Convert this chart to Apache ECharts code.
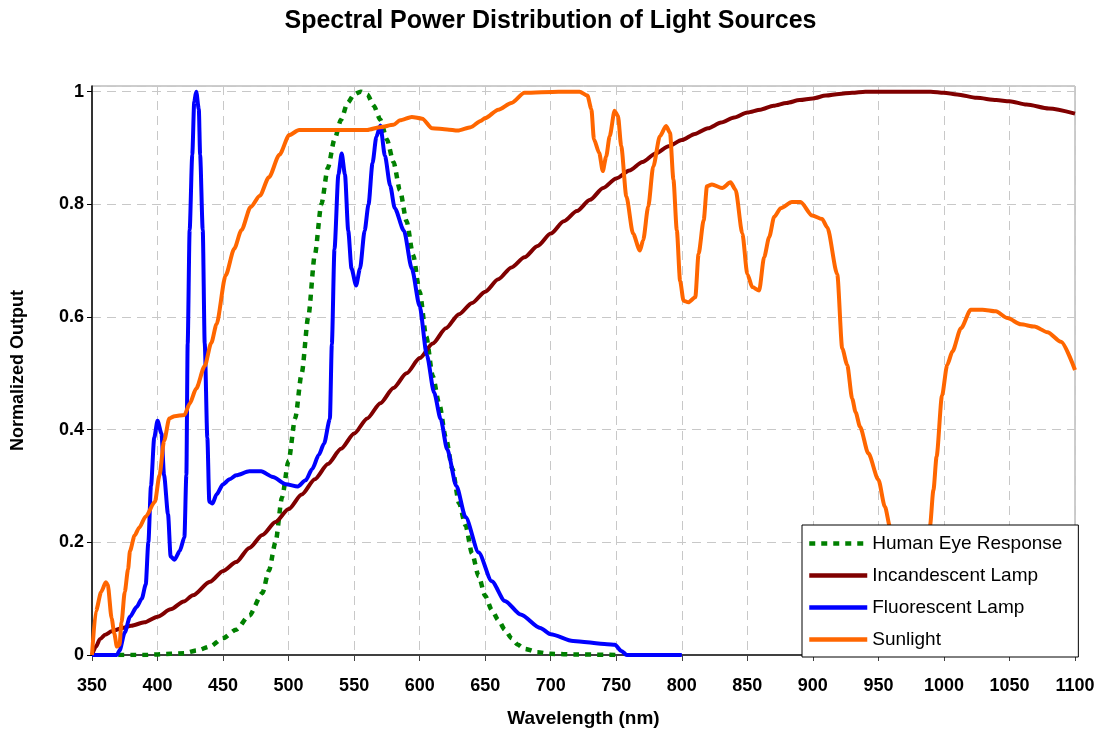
<!DOCTYPE html>
<html>
<head>
<meta charset="utf-8">
<script src="https://cdn.jsdelivr.net/npm/echarts@6/dist/echarts.min.js"></script>
<style>
html,body{margin:0;padding:0;background:#fff;}
#chart{width:1101px;height:734px;}
</style>
</head>
<body>
<div id="chart"></div>
<script>
var xTicks = [350,400,450,500,550,600,650,700,750,800,850,900,950,1000,1050,1100];
var yTicks = [0,0.2,0.4,0.6,0.8,1];

var eyeNm = [370,380,390,400,410,420,430,440,450,460,470,480,485,490,495,500,505,510,515,520,525,530,535,540,545,550,555,560,565,570,575,580,585,590,595,600,605,610,615,620,625,630,635,640,645,650,655,660,665,670,675,680,690,700,720,750];
var eyeVal = [0,0,0,0.001,0.002,0.003,0.008,0.015,0.03,0.045,0.07,0.11,0.15,0.2,0.28,0.345,0.42,0.5,0.6,0.71,0.8,0.865,0.915,0.95,0.98,0.995,1.0,0.995,0.975,0.95,0.915,0.875,0.825,0.77,0.71,0.645,0.565,0.495,0.445,0.385,0.33,0.27,0.23,0.18,0.14,0.105,0.08,0.062,0.045,0.03,0.018,0.011,0.005,0.002,0.001,0];

var incNm = [350,353,356,360,365,373,380,390,400,410,420,427,440,450,460,470,480,490,500,510,520,530,540,550,560,570,580,590,600,610,620,630,640,650,660,670,680,690,700,710,720,730,740,750,760,770,780,790,800,810,820,830,840,850,860,870,880,890,900,910,920,930,940,990,1000,1010,1025,1040,1050,1063,1080,1100];
var incVal = [0,0.015,0.028,0.036,0.042,0.048,0.052,0.058,0.068,0.081,0.095,0.106,0.13,0.149,0.165,0.19,0.213,0.236,0.259,0.285,0.312,0.339,0.366,0.393,0.42,0.447,0.474,0.5,0.527,0.553,0.58,0.605,0.625,0.645,0.667,0.688,0.706,0.726,0.748,0.77,0.788,0.808,0.829,0.846,0.86,0.875,0.89,0.903,0.914,0.925,0.935,0.945,0.954,0.963,0.968,0.975,0.98,0.985,0.988,0.993,0.996,0.998,1.0,1.0,0.998,0.995,0.989,0.985,0.983,0.977,0.97,0.961];

var fluNm = [350,369,371,375,379,384,388,391,393,395,397.5,400,403,405,408,410,413,417,420.5,422,423,424.5,426.5,428,429.5,431.5,432.5,434.5,436,438,439.5,442,445,450,455,460,470,479,488,498,507,513,518,523,527,531.5,533,535,538,540.5,543,545.5,548,551.5,554.5,558,561,564,567,570,573.5,577.5,581,588,594,600,605.5,611,616,621,628,635,645,655,665,677,692,700,717,743,749,754,758,800];
var fluVal = [0,0,0.008,0.04,0.068,0.085,0.1,0.125,0.2,0.3,0.386,0.416,0.393,0.319,0.25,0.175,0.169,0.185,0.209,0.32,0.553,0.754,0.888,0.982,1.0,0.969,0.888,0.754,0.553,0.386,0.272,0.269,0.285,0.303,0.312,0.319,0.326,0.326,0.316,0.303,0.299,0.31,0.33,0.355,0.375,0.419,0.552,0.72,0.853,0.89,0.853,0.753,0.686,0.656,0.686,0.753,0.8,0.873,0.92,0.94,0.886,0.833,0.793,0.753,0.686,0.619,0.532,0.466,0.419,0.365,0.3,0.245,0.182,0.131,0.096,0.072,0.048,0.037,0.025,0.019,0.018,0.007,0,0];

var sunNm = [350,353,357,360.5,362,365,367,369,371,372.5,375,377.5,379,382.5,386,391,398,401.5,405,409,413,420.5,424.5,429.5,436,441,445,452,458.5,464,471,478,485,493,500.5,508,531,560,570,580,585,594,602,609.5,621,629,639,646.5,650,660,670,680,706,722,728,731,733,737,739.7,742.3,745,748.7,751.3,753.8,757.7,762.8,768,770.5,774.4,778.2,783.3,788,791,793.6,796.2,798.7,801.3,805,810.3,812.8,816.7,819.2,823,830.8,837.2,841,846.2,850,853.8,859,862.8,866.7,870.5,875.5,884,890.6,899.5,907,911,918.6,922.4,926.2,930,932.6,936,942.3,950,955,958.8,963,968,975,982,987,989.3,992,994.4,998.5,1002.5,1006.5,1013,1020.5,1029.4,1039.6,1048.5,1058.7,1069,1079,1089.3,1100];
var sunVal = [0,0.078,0.112,0.129,0.125,0.065,0.038,0.015,0.018,0.058,0.112,0.152,0.185,0.212,0.226,0.246,0.272,0.319,0.38,0.42,0.424,0.426,0.446,0.473,0.513,0.554,0.587,0.674,0.721,0.754,0.795,0.815,0.848,0.888,0.923,0.932,0.932,0.932,0.937,0.941,0.949,0.955,0.952,0.935,0.933,0.931,0.937,0.948,0.953,0.968,0.98,0.998,1.0,1.0,0.993,0.969,0.915,0.891,0.859,0.885,0.921,0.966,0.957,0.903,0.814,0.748,0.718,0.736,0.796,0.867,0.921,0.939,0.927,0.844,0.754,0.664,0.629,0.626,0.635,0.712,0.772,0.832,0.835,0.829,0.839,0.826,0.748,0.676,0.653,0.647,0.706,0.742,0.778,0.793,0.804,0.804,0.78,0.774,0.759,0.676,0.544,0.515,0.455,0.431,0.405,0.358,0.311,0.263,0.228,0.18,0.12,0.1,0.12,0.18,0.228,0.293,0.352,0.46,0.515,0.539,0.58,0.613,0.613,0.61,0.598,0.587,0.583,0.573,0.556,0.506];

var seriesNames = ['Human Eye Response','Incandescent Lamp','Fluorescent Lamp','Sunlight'];
var seriesColors = ['#008000','#800000','#0000ff','#ff6600'];

function pairs(xs, ys){
  var n = Math.min(xs.length, ys.length), out = [];
  for (var i = 0; i < n; i++) out.push([xs[i], ys[i]]);
  return out;
}

var FONT = '"Liberation Sans", Arial, Helvetica, sans-serif';
var chart = echarts.init(document.getElementById('chart'), null, {renderer:'canvas'});

function mkSeries(idx, xs, ys, dashed){
  return {
    name: seriesNames[idx],
    type: 'line',
    data: pairs(xs, ys),
    symbol: 'none',
    smooth: 0.25,
    smoothMonotone: 'x',
    animation: false,
    lineStyle: {color: seriesColors[idx], width: dashed ? 4.5 : 4, type: dashed ? [6,6] : 'solid', cap: 'butt', join:'round'},
    itemStyle: {color: seriesColors[idx]},
    emphasis: {disabled: true}
  };
}

chart.setOption({
  backgroundColor: '#ffffff',
  animation: false,
  title: {
    text: 'Spectral Power Distribution of Light Sources',
    left: 'center', top: 4,
    textStyle: {fontFamily: FONT, fontWeight: 'bold', fontSize: 25, color: '#000'}
  },
  grid: {left: 92, right: 26, top: 86, bottom: 79, show: true, borderColor: '#9a9a9a', borderWidth: 1, backgroundColor: '#fff'},
  legend: {
    data: seriesNames,
    orient: 'vertical',
    left: 802, top: 525,
    padding: [9, 16, 8, 5],
    itemWidth: 58, itemHeight: 14, itemGap: 13,
    backgroundColor: '#fff', borderColor: '#000', borderWidth: 1,
    itemStyle: {opacity: 0, borderWidth: 0},
    lineStyle: {width: 4.5},
    textStyle: {fontFamily: FONT, fontSize: 19, color: '#000'},
    selectedMode: false,
    z: 10
  },
  xAxis: {
    type: 'value', min: xTicks[0], max: xTicks[xTicks.length-1], interval: 50,
    name: 'Wavelength (nm)', nameLocation: 'middle', nameGap: 54,
    nameTextStyle: {fontFamily: FONT, fontWeight: 'bold', fontSize: 19, color: '#000'},
    axisLine: {show: true, onZero: false, lineStyle: {color: '#404040', width: 2}},
    axisTick: {show: true, inside: false, length: 6, lineStyle: {color: '#404040', width: 1}},
    axisLabel: {margin: 22, fontFamily: FONT, fontWeight: 'bold', fontSize: 18, color: '#000',
      formatter: function(v){ return String(v); }},
    splitLine: {show: true, lineStyle: {color: '#c8c8c8', type: [9,6], width: 1}}
  },
  yAxis: {
    type: 'value', min: 0, max: 1.01, interval: 0.2,
    name: 'Normalized Output', nameLocation: 'middle', nameGap: 65, nameRotate: 90,
    nameTextStyle: {fontFamily: FONT, fontWeight: 'bold', fontSize: 18, color: '#000'},
    axisLine: {show: true, onZero: false, lineStyle: {color: '#000', width: 1.5}},
    axisTick: {show: true, inside: false, length: 5, lineStyle: {color: '#000', width: 1}},
    axisLabel: {margin: 8, showMaxLabel: false, fontFamily: FONT, fontWeight: 'bold', fontSize: 18, color: '#000',
      formatter: function(v){ return yTicks.indexOf(Math.round(v*10)/10) >= 0 ? String(Math.round(v*10)/10) : ''; }},
    splitLine: {show: true, lineStyle: {color: '#c8c8c8', type: [9,6], width: 1}}
  },
  series: [
    mkSeries(0, eyeNm, eyeVal, true),
    mkSeries(1, incNm, incVal, false),
    mkSeries(2, fluNm, fluVal, false),
    mkSeries(3, sunNm, sunVal, false)
  ]
});
</script>
</body>
</html>
